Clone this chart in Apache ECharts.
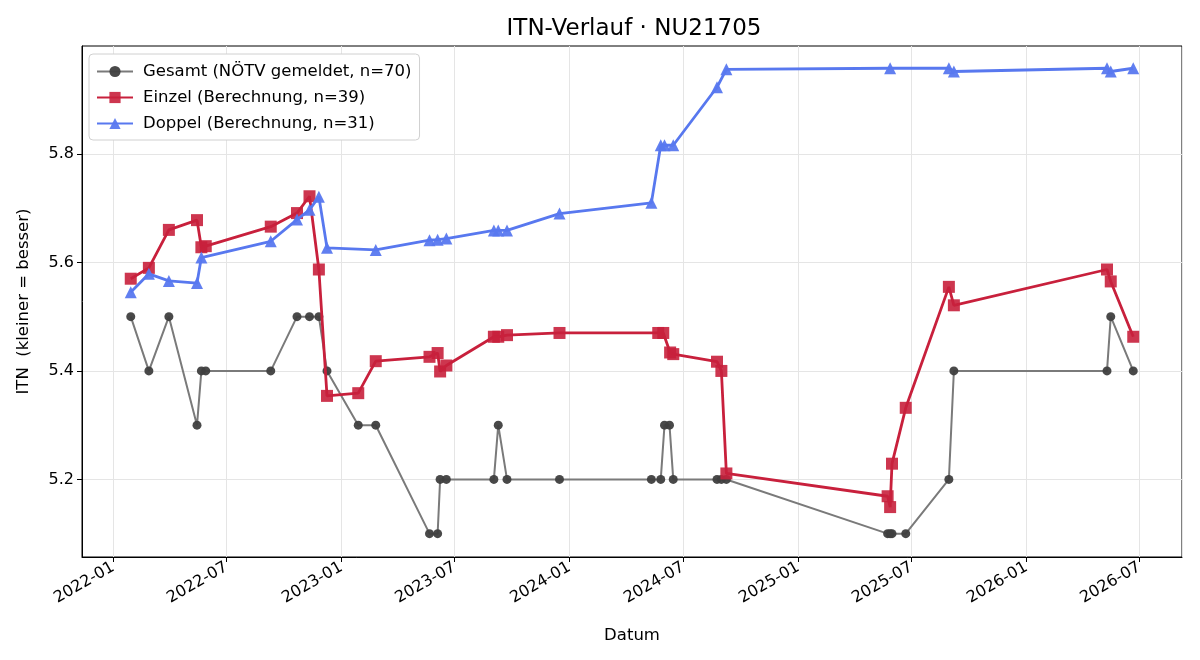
<!DOCTYPE html>
<html>
<head>
<meta charset="utf-8" />
<title>ITN-Verlauf</title>
<script src="https://cdn.jsdelivr.net/npm/echarts@6.0.0/dist/echarts.min.js"></script>
<style>
  html, body { margin: 0; padding: 0; background: #fff; }
  #main { width: 1200px; height: 660px; }
</style>
</head>
<body>
<div id="main"></div>
<script>
// Gesamt (NÖTV gemeldet)
const gesamtDates = ['2022-01-29','2022-02-27','2022-03-31','2022-05-15','2022-05-22','2022-05-29','2022-09-10','2022-10-22','2022-11-11','2022-11-26','2022-12-09','2023-01-28','2023-02-25','2023-05-22','2023-06-04','2023-06-08','2023-06-18','2023-09-02','2023-09-09','2023-09-23','2023-12-16','2024-05-11','2024-05-26','2024-06-01','2024-06-09','2024-06-15','2024-08-24','2024-08-31','2024-09-08','2025-05-24','2025-05-28','2025-05-31','2025-06-22','2025-08-30','2025-09-07','2026-05-10','2026-05-16','2026-06-21'];
const gesamtValues = [5.5,5.4,5.5,5.3,5.4,5.4,5.4,5.5,5.5,5.5,5.4,5.3,5.3,5.1,5.1,5.2,5.2,5.2,5.3,5.2,5.2,5.2,5.2,5.3,5.3,5.2,5.2,5.2,5.2,5.1,5.1,5.1,5.1,5.2,5.4,5.4,5.5,5.4];

// Einzel (Berechnung)
const einzelDates = ['2022-01-29','2022-02-27','2022-03-31','2022-05-15','2022-05-22','2022-05-29','2022-09-10','2022-10-22','2022-11-11','2022-11-26','2022-12-09','2023-01-28','2023-02-25','2023-05-22','2023-06-04','2023-06-08','2023-06-18','2023-09-02','2023-09-09','2023-09-23','2023-12-16','2024-05-22','2024-05-30','2024-06-10','2024-06-15','2024-08-24','2024-08-31','2024-09-08','2025-05-24','2025-05-28','2025-05-31','2025-06-22','2025-08-30','2025-09-07','2026-05-10','2026-05-16','2026-06-21'];
const einzelValues = [5.570,5.590,5.660,5.678,5.628,5.630,5.666,5.691,5.722,5.587,5.354,5.359,5.418,5.426,5.433,5.399,5.410,5.463,5.463,5.466,5.470,5.470,5.470,5.434,5.431,5.417,5.400,5.211,5.169,5.149,5.229,5.332,5.555,5.521,5.587,5.565,5.463];

// Doppel (Berechnung)
const doppelDates = ['2022-01-29','2022-02-27','2022-03-31','2022-05-15','2022-05-22','2022-09-10','2022-10-22','2022-11-11','2022-11-26','2022-12-09','2023-02-25','2023-05-22','2023-06-04','2023-06-18','2023-09-02','2023-09-09','2023-09-23','2023-12-16','2024-05-11','2024-05-26','2024-06-01','2024-06-15','2024-08-24','2024-09-08','2025-05-28','2025-08-30','2025-09-07','2026-05-10','2026-05-16','2026-06-21'];
const doppelValues = [5.545,5.579,5.566,5.562,5.609,5.639,5.679,5.697,5.721,5.627,5.623,5.641,5.642,5.644,5.659,5.659,5.659,5.690,5.710,5.816,5.816,5.816,5.923,5.956,5.958,5.958,5.952,5.958,5.952,5.958];

const yTicks = [5.2, 5.4, 5.6, 5.8];

const pairs = (dates, vals) => dates.map((d, i) => [d, vals[i]]);
const FONT = 'DejaVu Sans';
const DAY = 24 * 3600 * 1000;

let myChart = echarts.init(document.getElementById('main'));
let option = {
    animation: false,
    textStyle: { fontFamily: FONT },
    title: {
        text: 'ITN-Verlauf · NU21705',
        left: 629,
        textAlign: 'center',
        top: 13,
        textStyle: { fontFamily: FONT, fontSize: 23, fontWeight: 'normal', color: '#000' }
    },
    grid: {
        left: 82, right: 18, top: 46, bottom: 103,
        show: true, borderColor: '#000', borderWidth: 1, backgroundColor: 'transparent'
    },
    legend: {
        orient: 'vertical',
        left: 89, top: 54,
        padding: [9, 8, 8, 7],
        itemGap: 9,
        itemWidth: 36,
        itemHeight: 14,
        backgroundColor: '#fff',
        borderColor: '#d0d0d0',
        borderWidth: 1,
        borderRadius: 4,
        textStyle: { fontFamily: FONT, fontSize: 16.5, color: '#000', padding: [0, 0, 0, 5] }
    },
    xAxis: {
        type: 'time',
        min: '2021-11-12',
        max: '2026-09-07',
        minInterval: 181 * DAY,
        maxInterval: 184 * DAY,
        name: 'Datum',
        nameLocation: 'middle',
        nameGap: 70,
        nameTextStyle: { fontFamily: FONT, fontSize: 16.5, color: '#000' },
        axisLine: { lineStyle: { color: '#000' } },
        axisTick: { lineStyle: { color: '#000' }, length: 5 },
        axisLabel: {
            rotate: 30,
            margin: 9,
            fontFamily: FONT, fontSize: 16, color: '#000',
            formatter: function (v) {
                const d = new Date(v);
                return d.getFullYear() + '-' + String(d.getMonth() + 1).padStart(2, '0');
            }
        },
        splitLine: { show: true, lineStyle: { color: '#e5e5e5' } }
    },
    yAxis: {
        type: 'value',
        min: 5.057,
        max: 5.999,
        splitNumber: 5,
        name: 'ITN  (kleiner = besser)',
        nameLocation: 'middle',
        nameGap: 50,
        nameTextStyle: { fontFamily: FONT, fontSize: 16.5, color: '#000' },
        axisLine: { show: true, lineStyle: { color: '#000' } },
        axisTick: { show: true, lineStyle: { color: '#000' }, length: 5, customValues: yTicks },
        axisLabel: {
            fontFamily: FONT, fontSize: 16, color: '#000',
            customValues: yTicks,
            formatter: v => v.toFixed(1)
        },
        splitLine: { show: true, lineStyle: { color: '#e5e5e5' } }
    },
    series: [
        {
            name: 'Gesamt (NÖTV gemeldet, n=70)',
            type: 'line',
            data: pairs(gesamtDates, gesamtValues),
            symbol: 'circle',
            symbolSize: 9,
            lineStyle: { color: '#7a7a7a', width: 2 },
            itemStyle: { color: '#3f3f3f', opacity: 0.95 },
            z: 2
        },
        {
            name: 'Einzel (Berechnung, n=39)',
            type: 'line',
            data: pairs(einzelDates, einzelValues),
            symbol: 'rect',
            symbolSize: 12,
            lineStyle: { color: '#c8203c', width: 2.8 },
            itemStyle: { color: '#c8203c', opacity: 0.9 },
            z: 3
        },
        {
            name: 'Doppel (Berechnung, n=31)',
            type: 'line',
            data: pairs(doppelDates, doppelValues),
            symbol: 'triangle',
            symbolSize: 12,
            lineStyle: { color: '#5878ef', width: 2.8 },
            itemStyle: { color: '#5878ef', opacity: 0.95 },
            z: 4
        }
    ]
};
myChart.setOption(option);
</script>
</body>
</html>
